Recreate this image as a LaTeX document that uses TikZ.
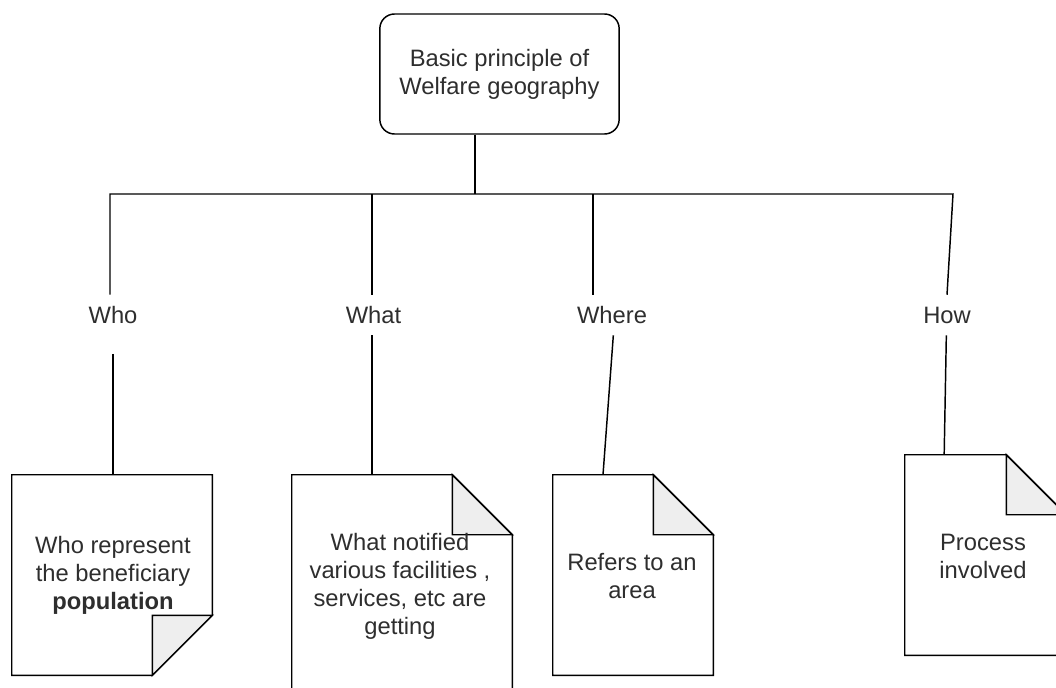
\documentclass[tikz,border=0pt]{standalone}
\usepackage{fontspec}
\setmainfont{Liberation Sans}
\definecolor{flap}{HTML}{EEEEEE}
\definecolor{txt}{HTML}{2E2E2E}
\begin{document}
\begin{tikzpicture}[x=0.75pt,y=-0.75pt,
  every node/.style={font=\fontsize{17.8pt}{21pt}\selectfont, text=txt},
  line/.style={draw=black, line width=1.1pt},
  topbox/.style={draw=black, line width=1.1pt, rounded corners=11pt, minimum width=179.5pt, minimum height=90pt, align=center, inner sep=0pt},
  lbl/.style={inner sep=0pt, minimum height=30pt, fill=white},
  docbox/.style={inner sep=0pt, align=center}
]
\clip (0,0) rectangle (1056,687);
\fill[white] (0,0) rectangle (1056,687);

% top node
\node[topbox] (top) at (499.5,74) {Basic principle of\\Welfare geography};

% documents (shape placeholders)
\node[docbox, minimum width=150pt, minimum height=150pt] (whodoc) at (112,575) {};
\node[docbox, minimum width=165pt, minimum height=166.5pt] (whatdoc) at (402,586) {};
\node[docbox, minimum width=120pt, minimum height=150pt] (wheredoc) at (633,575) {};
\node[docbox, minimum width=120.75pt, minimum height=150pt] (howdoc) at (985.5,555) {};

% Who doc: fold bottom right
\draw[line, fill=white] (whodoc.north west) -- (whodoc.north east) -- ([yshift=45pt]whodoc.south east) -- ([xshift=-45pt]whodoc.south east) -- (whodoc.south west) -- cycle;
\draw[line, fill=flap, line join=miter] ([yshift=45pt]whodoc.south east) -- ([xshift=-45pt,yshift=45pt]whodoc.south east) -- ([xshift=-45pt]whodoc.south east) -- cycle;

% other docs: fold top right
\foreach \d in {whatdoc,wheredoc,howdoc}{
  \draw[line, fill=white] (\d.north west) -- ([xshift=-45pt]\d.north east) -- ([yshift=-45pt]\d.north east) -- (\d.south east) -- (\d.south west) -- cycle;
  \draw[line, fill=flap] ([xshift=-45pt]\d.north east) -- ([xshift=-45pt,yshift=-45pt]\d.north east) -- ([yshift=-45pt]\d.north east) -- cycle;
}

% doc texts
\node[align=center] (whotxt) at (113,575.5) {Who represent\\the beneficiary\\\textbf{population}};
\node[align=center] (whattxt) at (400,586) {What notified\\various facilities ,\\services, etc are\\getting};
\node[align=center] (wheretxt) at (632,576.5) {Refers to an\\area};
\node[align=center] (howtxt) at (983,556) {Process\\involved};

% labels
\node[lbl] (whoL) at (113,315) {Who};
\node[lbl] (whatL) at (373.5,315) {What};
\node[lbl] (whereL) at (612,315) {Where};
\node[lbl] (howL) at (947,315) {How};

% hub coordinates
\coordinate (hub) at (475,194);
\coordinate (j1) at (110,194);
\coordinate (j2) at (372,194);
\coordinate (j3) at (593,194);
\coordinate (j4) at (953,194);

% connectors
\draw[line] (top.south -| hub) -- (hub);
\draw[line] (j1 |- whoL.north) -- (j1) -- (j4) -- (howL.north);
\draw[line] (j2) -- (j2 |- whatL.north);
\draw[line] (j3) -- (j3 |- whereL.north);

\draw[line] ([yshift=-14pt]whoL.south) -- (whoL.south |- whodoc.north);
\draw[line] (whatL.south -| j2) -- (j2 |- whatdoc.north);
\draw[line] ([xshift=1pt]whereL.south) -- ([xshift=-22.5pt]wheredoc.north);
\draw[line] ([xshift=-0.5pt]howL.south) -- ([xshift=-31pt]howdoc.north);
\end{tikzpicture}
\end{document}
